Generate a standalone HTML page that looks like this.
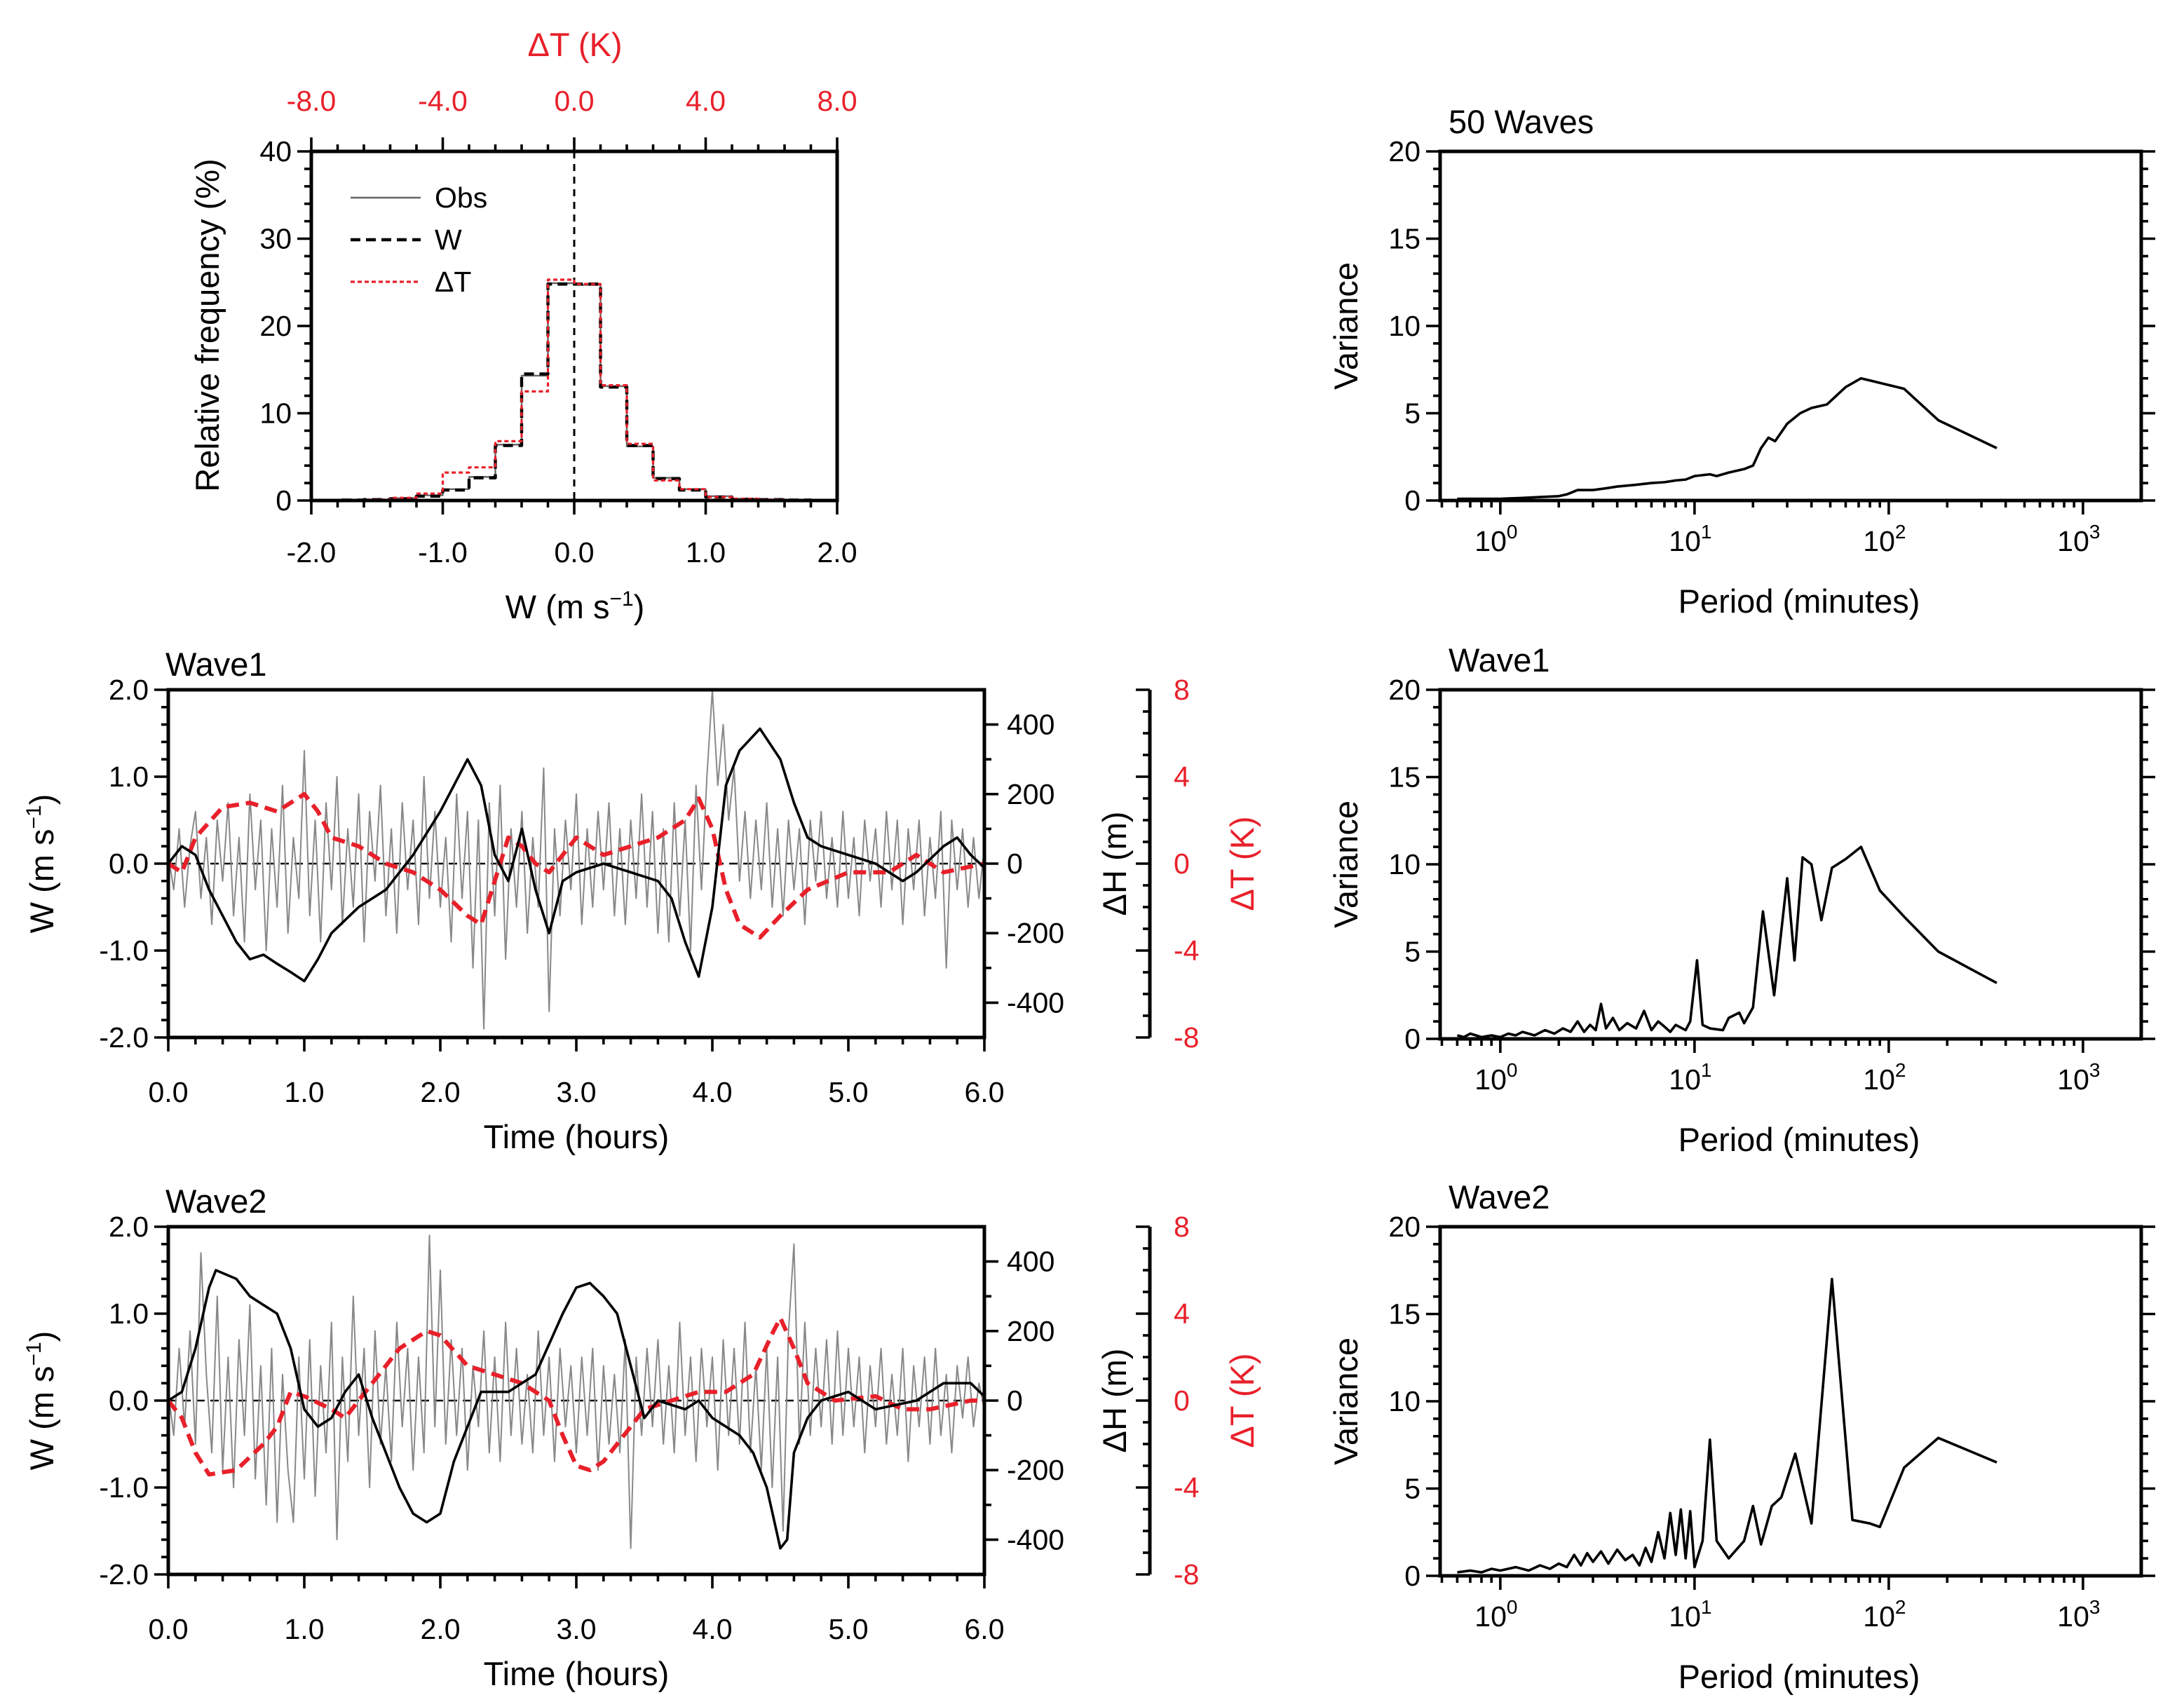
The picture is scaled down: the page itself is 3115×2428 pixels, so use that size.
<!DOCTYPE html>
<html><head><meta charset="utf-8"><style>
html,body{margin:0;padding:0;background:#fff}
svg{display:block}
text{font-family:"Liberation Sans",sans-serif}
</style></head><body>
<svg id="fig" width="3115" height="2428" viewBox="0 0 1557.5 1214" xmlns="http://www.w3.org/2000/svg"></svg>
<script>
// ---------- data ----------
const histEdges=[-2.0,-1.8,-1.6,-1.4,-1.2,-1.0,-0.8,-0.6,-0.4,-0.2,0.0,0.2,0.4,0.6,0.8,1.0,1.2,1.4,1.6,1.8,2.0];
const histW  =[0,0.05,0.1,0.2,0.5,1.2,2.6,6.3,14.5,24.8,24.8,13.0,6.3,2.5,1.2,0.4,0.15,0.1,0.05,0];
const histObs=[0,0.05,0.1,0.25,0.6,1.3,2.7,6.4,14.3,24.9,24.7,13.1,6.2,2.6,1.3,0.5,0.2,0.1,0.05,0];
const histT  =[0,0.05,0.1,0.3,0.8,3.2,3.8,6.8,12.5,25.3,24.8,13.2,6.5,2.3,1.3,0.4,0.2,0.1,0.05,0];
const histXTicks=["-2.0","-1.0","0.0","1.0","2.0"];
const histTopTicks=["-8.0","-4.0","0.0","4.0","8.0"];

const w1Gray=[0.1,-0.3,0.4,-0.5,0.2,0.6,-0.4,0.3,-0.7,0.5,-0.2,0.7,-0.6,0.3,-0.9,0.8,-0.3,0.5,-1.0,0.4,-0.5,0.9,-0.8,0.3,-0.4,1.3,-0.6,0.5,-0.9,0.7,-0.3,1.0,-0.7,0.4,-0.5,0.8,-0.9,0.6,-0.2,0.9,-0.6,0.4,-0.8,0.7,-0.3,0.5,-0.7,1.0,-0.4,0.6,-0.5,0.3,-0.9,0.8,-0.4,0.6,-1.2,0.5,-1.9,0.7,-0.6,0.9,-1.1,0.4,-0.5,0.6,-0.8,0.3,-0.5,1.1,-1.7,0.4,-0.6,0.5,-0.3,0.8,-0.7,0.4,-0.5,0.6,-0.3,0.7,-0.6,0.4,-0.7,0.5,-0.4,0.8,-0.5,0.6,-0.8,0.4,-0.9,0.7,-0.6,0.5,-1.0,0.9,-0.3,1.0,2.0,0.9,1.6,0.5,1.1,-0.2,0.6,-0.4,0.5,-0.3,0.7,-0.5,0.4,-0.6,0.5,-0.3,0.4,-0.7,0.5,-0.2,0.6,-0.4,0.3,-0.5,0.6,-0.4,0.3,-0.6,0.5,-0.2,0.4,-0.5,0.6,-0.3,0.5,-0.7,0.4,-0.3,0.5,-0.6,0.3,-0.4,0.6,-1.2,0.5,-0.3,0.4,-0.5,0.3,-0.4,0.2];
const w1HT=[0,0.1,0.2,0.3,0.5,0.6,0.7,0.8,0.9,1.0,1.1,1.2,1.4,1.6,1.8,2.0,2.1,2.2,2.3,2.4,2.5,2.6,2.7,2.8,2.9,3.0,3.2,3.4,3.6,3.7,3.8,3.9,4.0,4.1,4.2,4.35,4.5,4.6,4.7,4.8,5.0,5.2,5.4,5.5,5.7,5.8,5.9,6.0];
const w1H=[0,50,25,-75,-225,-275,-262,-288,-312,-338,-275,-200,-125,-75,25,150,225,300,225,25,-50,100,-75,-200,-50,-25,0,-25,-50,-100,-225,-325,-125,225,325,388,300,175,75,50,25,0,-50,-25,50,75,25,-12];
const w1TT=[0,0.1,0.2,0.4,0.6,0.8,1.0,1.1,1.2,1.4,1.6,1.8,2.0,2.2,2.3,2.4,2.5,2.6,2.7,2.8,3.0,3.2,3.4,3.6,3.8,3.9,4.0,4.1,4.2,4.35,4.5,4.7,5.0,5.3,5.5,5.7,6.0];
const w1T=[0,-0.4,1.2,2.6,2.8,2.4,3.2,2.4,1.2,0.8,0,-0.4,-1.2,-2.4,-2.8,-0.8,1.2,0.8,0,-0.4,1.2,0.4,0.8,1.2,2.0,3.0,1.6,-1.2,-2.8,-3.4,-2.4,-1.2,-0.4,-0.4,0.4,-0.4,0];

const w2Gray=[0.1,-0.4,0.6,-0.3,0.8,-0.5,1.7,0.3,-0.6,1.2,-0.8,0.5,-1.0,0.7,-0.4,1.1,-0.9,0.4,-1.2,0.6,-1.4,0.3,-0.8,-1.4,0.5,-0.9,0.7,-1.1,0.4,-0.6,0.9,-1.6,0.5,-0.7,1.2,-0.4,0.6,-1.0,0.8,-0.5,0.4,-0.7,0.9,-0.3,0.6,-0.8,0.5,-0.6,1.9,-0.3,1.5,-0.5,0.7,-0.4,0.6,-0.8,0.4,-0.3,0.8,-0.6,0.5,-0.7,0.9,-0.4,0.6,-0.5,0.3,-0.6,0.8,-0.4,0.5,-0.7,0.6,-0.3,0.4,-0.6,0.5,-0.4,0.6,-0.8,0.4,-0.5,0.3,-0.6,0.7,-1.7,0.5,-0.4,0.6,-0.3,0.7,-0.5,0.4,-0.6,0.9,-0.4,0.5,-0.7,0.6,-0.3,0.5,-0.8,0.7,-0.4,0.6,-0.5,0.9,-0.6,0.4,-0.8,0.6,-1.0,0.5,-1.5,0.8,1.8,-0.5,0.9,-0.4,0.6,-0.3,0.7,-0.5,0.8,-0.4,0.6,-0.3,0.5,-0.6,0.4,-0.3,0.6,-0.5,0.3,-0.4,0.6,-0.7,0.4,-0.3,0.5,-0.5,0.6,-0.4,0.3,-0.6,0.4,-0.2,0.5,-0.3,0.2,-0.1];
const w2HT=[0,0.1,0.2,0.3,0.35,0.5,0.6,0.7,0.8,0.9,1.0,1.1,1.2,1.3,1.4,1.5,1.6,1.7,1.8,1.9,2.0,2.1,2.3,2.5,2.7,2.9,3.0,3.1,3.2,3.3,3.4,3.5,3.6,3.8,3.9,4.0,4.2,4.3,4.4,4.5,4.55,4.6,4.7,4.8,5.0,5.2,5.5,5.7,5.9,6.0];
const w2H=[0,25,150,325,375,350,300,275,250,150,-25,-75,-50,25,75,-50,-150,-250,-325,-350,-325,-175,25,25,75,250,325,338,300,250,100,-50,0,-25,0,-50,-100,-150,-250,-425,-400,-150,-50,0,25,-25,0,50,50,12];
const w2TT=[0,0.1,0.2,0.3,0.5,0.7,0.8,0.9,1.0,1.2,1.3,1.5,1.7,1.9,2.0,2.2,2.4,2.6,2.8,2.9,3.0,3.1,3.2,3.4,3.5,3.7,3.9,4.1,4.3,4.45,4.5,4.6,4.7,4.9,5.2,5.4,5.6,5.9,6.0];
const w2T=[0,-0.8,-2.4,-3.4,-3.2,-2.0,-1.2,0.4,0.2,-0.4,-0.8,0.8,2.4,3.2,3.0,1.6,1.2,0.8,0,-1.6,-3.0,-3.2,-2.8,-1.2,-0.4,0,0.4,0.4,1.2,3.2,3.8,2.4,0.8,0,0.2,-0.4,-0.4,0,0];

const specAllP=[0.6,0.8,1.0,1.3,1.6,2.0,2.2,2.5,3.0,3.5,4.0,5.0,6.0,7.0,8.0,9.0,10,12,13,15,18,20,22,24,26,30,35,40,48,60,72,120,180,360];
const specAllV=[0.1,0.1,0.1,0.15,0.2,0.25,0.35,0.6,0.6,0.7,0.8,0.9,1.0,1.05,1.15,1.2,1.4,1.5,1.4,1.6,1.8,2.0,3.0,3.6,3.4,4.4,5.0,5.3,5.5,6.5,7.0,6.4,4.6,3.0];
const spec1P=[0.6,0.65,0.7,0.8,0.9,1.0,1.1,1.2,1.3,1.5,1.7,1.9,2.1,2.3,2.5,2.7,2.9,3.1,3.3,3.5,3.8,4.1,4.5,5.0,5.5,6.0,6.5,7.0,7.5,8.0,9.0,9.5,10.3,11,12,14,15,17,18,20,22.5,25.7,30,32.7,36,40,45,51,60,72,90,120,180,360];
const spec1V=[0.2,0.1,0.3,0.1,0.2,0.1,0.3,0.2,0.4,0.2,0.5,0.3,0.6,0.4,1.0,0.4,0.8,0.5,2.0,0.6,1.2,0.5,0.9,0.6,1.6,0.5,1.0,0.7,0.4,0.8,0.5,1.0,4.5,0.8,0.6,0.5,1.2,1.5,0.9,1.8,7.3,2.5,9.2,4.5,10.4,10.0,6.8,9.8,10.3,11.0,8.5,7.0,5.0,3.2];
const spec2P=[0.6,0.7,0.8,0.9,1.0,1.2,1.4,1.6,1.8,2.0,2.2,2.4,2.6,2.8,3.0,3.3,3.6,4.0,4.4,4.8,5.2,5.6,6.0,6.5,7.0,7.5,8.0,8.5,9.0,9.5,10,11,12,13,15,18,20,22,25,28,33,40,51,65,80,90,120,180,360];
const spec2V=[0.2,0.3,0.2,0.4,0.3,0.5,0.3,0.6,0.4,0.7,0.5,1.2,0.6,1.3,0.8,1.4,0.7,1.5,0.9,1.2,0.6,1.6,0.8,2.5,1.0,3.6,1.2,3.8,1.0,3.7,0.5,2.0,7.8,2.0,1.0,2.0,4.0,1.8,4.0,4.5,7.0,3.0,17.0,3.2,3.0,2.8,6.2,7.9,6.5];
const specYTicks=[0,5,10,15,20];

// ---------- helpers ----------
const NS="http://www.w3.org/2000/svg";
const svg=document.getElementById('fig');
const FS=20.5, TFS=23.5;
function el(tag,attrs,parent){const e=document.createElementNS(NS,tag);for(const k in attrs)e.setAttribute(k,attrs[k]);(parent||svg).appendChild(e);return e;}
function grp(name){const g=el('g',{});return g;}
function ln(g,x1,y1,x2,y2,w,c,dash){const a={x1,y1,x2,y2,stroke:c||'#000','stroke-width':w||2};if(dash)a['stroke-dasharray']=dash;return el('line',a,g);}
function tx(g,x,y,s,opt){opt=opt||{};const t=el('text',{x,y,'font-size':opt.fs||FS,'text-anchor':opt.anchor||'middle',fill:opt.fill||'#000'},g);
  if(opt.rot)t.setAttribute('transform','rotate(-90 '+x+' '+y+')');t.innerHTML=s;return t;}
function poly(g,pts,c,w,dash,name){const p=el('polyline',{points:pts.map(p=>p[0].toFixed(2)+','+p[1].toFixed(2)).join(' '),fill:'none',stroke:c,'stroke-width':w,'stroke-linejoin':'round'},g);if(dash)p.setAttribute('stroke-dasharray',dash);
  
return p;}

// ---------- histogram ----------
(function(){
 const g=grp('histogram-panel');
 const L=222,R=597,T=108,B=357;
 const hx=w=>L+(w+2)/4*(R-L), hy=f=>B-f/40*(B-T);
 for(let i=0;i<=20;i++){const w=-2+i*0.2,x=hx(w),maj=(i%5==0);ln(g,x,B,x,B+(maj?10:5),1.8);ln(g,x,T,x,T-(maj?10:5),1.8);}
 for(let i=0;i<=20;i++){const y=hy(i*2),maj=(i%5==0);ln(g,L,y,L-(maj?10:5),y,1.8);}
 histXTicks.forEach((s,i)=>tx(g,hx(-2+i),401,s));
 histTopTicks.forEach((s,i)=>tx(g,hx(-2+i),79,s,{fill:'#e8202a'}));
 for(let i=0;i<=4;i++)tx(g,L-14,hy(i*10)+7,String(i*10),{anchor:'end'});
 tx(g,410,40,'ΔT (K)',{fs:TFS,fill:'#e8202a'});
 tx(g,410,441,'W (m s<tspan font-size="15" dy="-9">−1</tspan><tspan dy="9">)</tspan>',{fs:TFS});
 tx(g,156,232,'Relative frequency (%)',{fs:TFS,rot:true});
 ln(g,hx(0),T,hx(0),B,1.5,'#000','5,4');
 function step(vals,c,w,dash,name){const pts=[];vals.forEach((v,i)=>{pts.push([hx(histEdges[i]),hy(v)]);pts.push([hx(histEdges[i+1]),hy(v)]);});poly(g,pts,c,w,dash,name);}
 step(histObs,'#666',1.2,null,'obs-histogram');
 step(histW,'#000',2.2,'7,4','w-histogram');
 step(histT,'#e8202a',1.6,'3,2','dt-histogram');
 el('rect',{x:L,y:T,width:R-L,height:B-T,fill:'none',stroke:'#000','stroke-width':2.5},g);
 const lg=grp('legend');
 ln(lg,250,141,300,141,1.2,'#666');tx(lg,310,148,'Obs',{anchor:'start'});
 ln(lg,250,171,300,171,2.2,'#000','7,4');tx(lg,310,178,'W',{anchor:'start'});
 ln(lg,250,201,300,201,1.6,'#e8202a','3,2');tx(lg,310,208,'ΔT',{anchor:'start'});
})();

// ---------- time series ----------
function tsPanel(name,title,T,gray,hT,hV,tT,tV){
 const g=grp(name);
 const L=120,R=702,B=T+248,C=(T+B)/2;
 const xs=t=>L+t/6*(R-L), yW=w=>C-w/4*(B-T);
 const yH=h=>C-h/1000*(B-T), yT=k=>C-k/16*(B-T);
 for(let i=0;i<=30;i++){const x=xs(i*0.2),maj=(i%5==0);ln(g,x,B,x,B+(maj?10:5),1.8);}
 for(let i=0;i<=6;i++)tx(g,xs(i),B+46,i.toFixed(1));
 for(let i=0;i<=20;i++){const y=yW(-2+i*0.2),maj=(i%5==0);ln(g,L,y,L-(maj?10:5),y,1.8);}
 for(let i=0;i<=4;i++)tx(g,L-14,yW(-2+i)+7,(-2+i).toFixed(1),{anchor:'end'});
 for(let i=-4;i<=4;i++){const y=yH(i*100),maj=(i%2==0);ln(g,R,y,R+(maj?10:5),y,1.8);}
 [-400,-200,0,200,400].forEach(v=>tx(g,R+16,yH(v)+7,String(v),{anchor:'start'}));
 ln(g,820,T,820,B,2.5);
 for(let i=-8;i<=8;i++){const y=yT(i),maj=(i%4==0);ln(g,820,y,820-(maj?10:5),y,1.8);}
 [-8,-4,0,4,8].forEach(v=>tx(g,837,yT(v)+7,String(v),{anchor:'start',fill:'#e8202a'}));
 tx(g,L-2,T-10,title,{fs:TFS,anchor:'start'});
 tx(g,411,B+79,'Time (hours)',{fs:TFS});
 tx(g,38,C,'W (m s<tspan font-size="15" dy="-9">−1</tspan><tspan dy="9">)</tspan>',{fs:TFS,rot:true});
 tx(g,803,C,'ΔH (m)',{fs:TFS,rot:true});
 tx(g,894,C,'ΔT (K)',{fs:TFS,rot:true,fill:'#e8202a'});
 ln(g,L,C,R,C,1.2,'#000','6,4');
 poly(g,gray.map((v,i)=>[xs(i*6/(gray.length-1)),yW(v)]),'#888',1,null,title.toLowerCase()+'-w-obs');
 poly(g,tT.map((t,i)=>[xs(t),yT(tV[i])]),'#e8202a',3,'9,5',title.toLowerCase()+'-dt-line');
 poly(g,hT.map((t,i)=>[xs(t),yH(hV[i])]),'#000',1.8,null,title.toLowerCase()+'-dh-line');
 el('rect',{x:L,y:T,width:R-L,height:B-T,fill:'none',stroke:'#000','stroke-width':2.5},g);
}
tsPanel('wave1-timeseries','Wave1',492,w1Gray,w1HT,w1H,w1TT,w1T);
tsPanel('wave2-timeseries','Wave2',875,w2Gray,w2HT,w2H,w2TT,w2T);

// ---------- spectra ----------
function specPanel(name,title,T,P,V){
 const g=grp(name);
 const L=1027,R=1527,B=T+249;
 const lx=p=>L+(Math.log10(p)+0.31)/3.61*(R-L), sy=v=>B-v/20*(B-T);
 for(let d=-1;d<=3;d++)for(let m=1;m<=9;m++){const p=m*Math.pow(10,d);if(p<0.49||p>1995)continue;const x=lx(p);ln(g,x,B,x,B+(m==1?10:5),1.8);}
 for(let d=0;d<=3;d++){tx(g,lx(Math.pow(10,d))-3,B+36,'10<tspan font-size="14" dy="-9">'+d+'</tspan>');}
 for(let i=0;i<=20;i++){const y=sy(i),maj=(i%5==0);ln(g,L,y,L-(maj?10:5),y,1.8);ln(g,R,y,R+(maj?10:5),y,1.8);}
 specYTicks.forEach(v=>tx(g,L-14,sy(v)+7,String(v),{anchor:'end'}));
 tx(g,L+6,T-13,title,{fs:TFS,anchor:'start'});
 tx(g,1283,B+80,'Period (minutes)',{fs:TFS});
 tx(g,968,(T+B)/2,'Variance',{fs:TFS,rot:true});
 poly(g,P.map((p,i)=>[lx(p),sy(V[i])]),'#000',1.8,null,name+'-line');
 el('rect',{x:L,y:T,width:R-L,height:B-T,fill:'none',stroke:'#000','stroke-width':2.5},g);
}
specPanel('spectrum-50-waves','50 Waves',108,specAllP,specAllV);
specPanel('spectrum-wave1','Wave1',492,spec1P,spec1V);
specPanel('spectrum-wave2','Wave2',875,spec2P,spec2V);
</script>
</body></html>
